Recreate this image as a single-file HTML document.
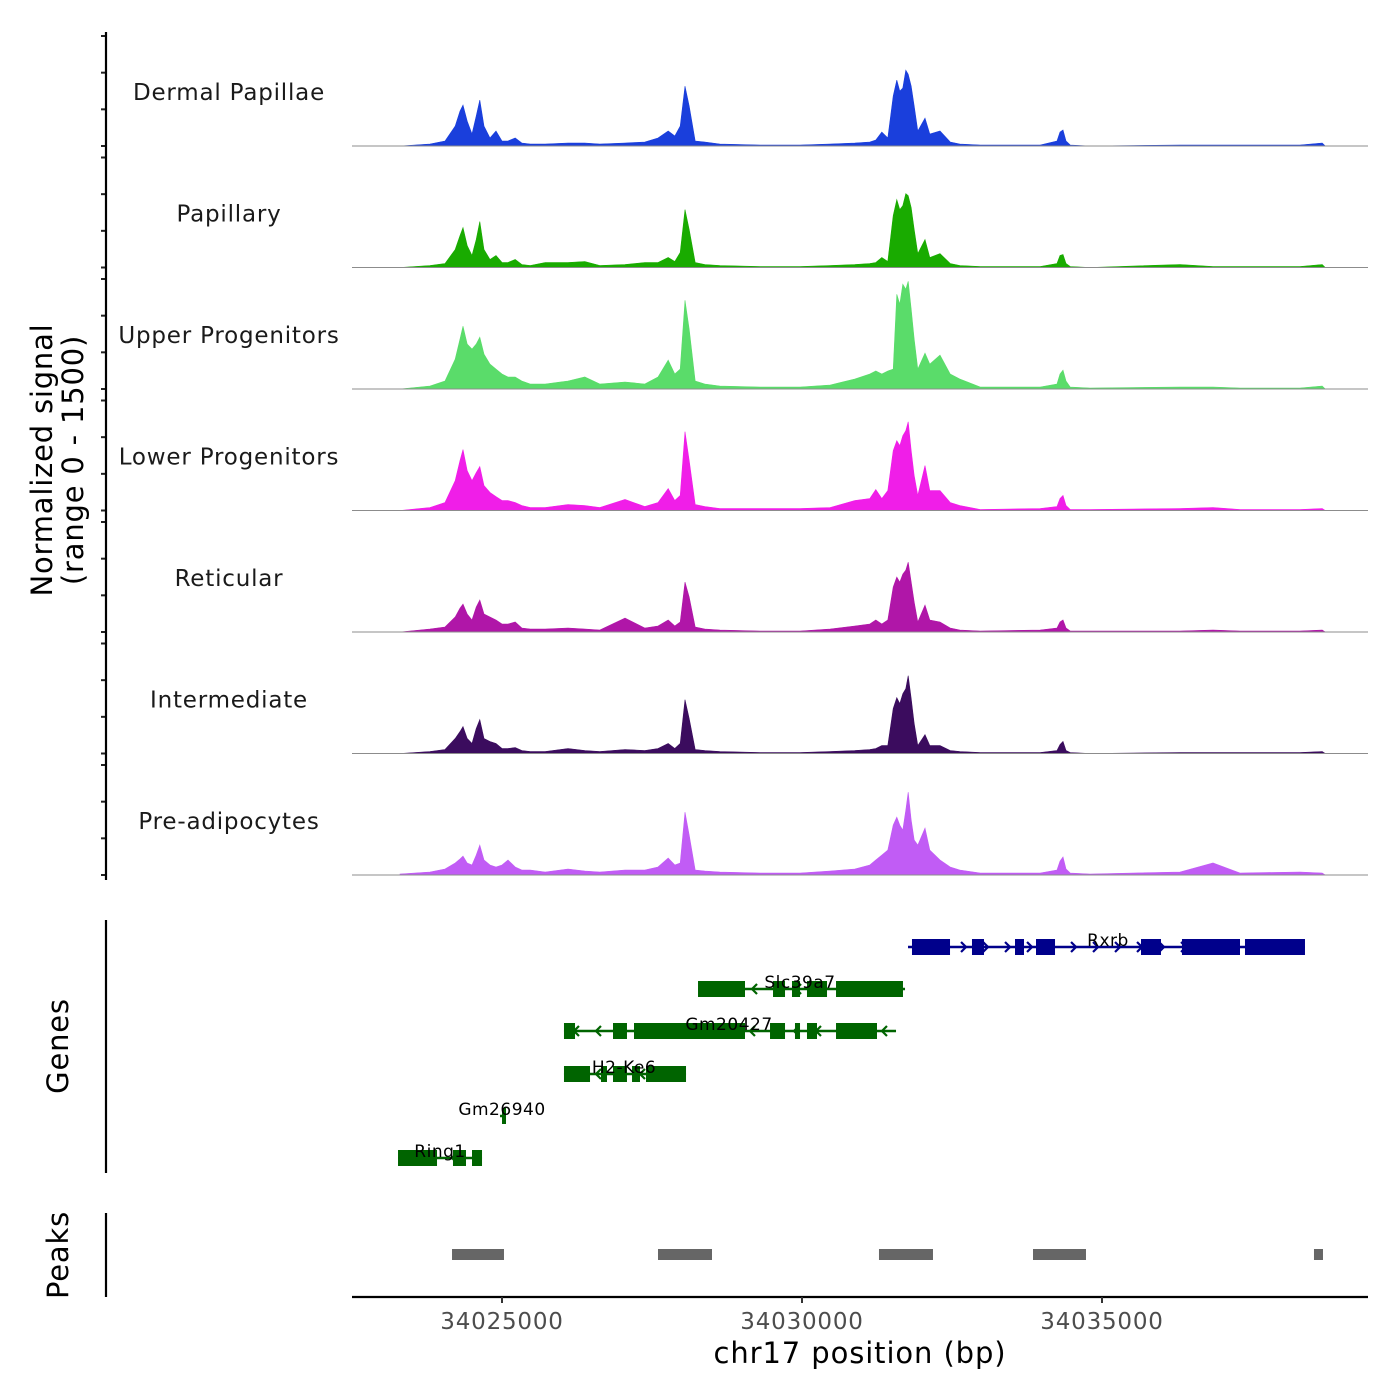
<!DOCTYPE html>
<html><head><meta charset="utf-8"><style>
html,body{margin:0;padding:0;background:#fff;}
svg{display:block;font-family:"DejaVu Sans","Liberation Sans",sans-serif;}
</style></head><body>
<svg id="chart" width="1400" height="1400" viewBox="0 0 1400 1400"></svg>
<script>
// ---- data ----
const positions=[34023300,34023800,34024050,34024220,34024300,34024350,34024420,34024500,34024570,34024630,34024700,34024800,34024900,34025000,34025100,34025220,34025330,34025470,34025720,34026100,34026380,34026630,34027050,34027380,34027600,34027770,34027880,34027970,34028050,34028120,34028220,34028380,34028630,34029300,34029970,34030470,34030880,34031130,34031230,34031330,34031430,34031520,34031580,34031630,34031680,34031730,34031770,34031820,34031870,34031930,34032050,34032130,34032300,34032470,34032630,34032970,34033970,34034250,34034300,34034350,34034400,34034470,34034800,34036300,34036850,34037300,34038300,34038670,34038720];
const trackNames=["Dermal Papillae","Papillary","Upper Progenitors","Lower Progenitors","Reticular","Intermediate","Pre-adipocytes"];
const trackColors=["#1a3fdc","#19ab00","#5adc6a","#f01ee8","#b016a8","#3b0c5e","#c15cf5"];
const dermalPapillae=[0,27,68,272,476,558,340,163,408,626,272,109,204,68,68,109,41,27,27,41,41,27,41,54,109,204,136,272,816,544,68,54,27,14,14,27,41,54,82,190,109,680,898,748,789,1034,979,816,544,204,381,163,204,54,27,14,14,68,190,218,68,14,0,14,14,14,14,41,0];
const papillary=[0,27,54,245,435,544,299,163,381,626,245,109,163,68,68,109,41,27,68,68,82,27,41,68,68,136,82,204,789,517,68,41,27,14,14,27,41,54,68,136,82,707,925,789,843,1006,979,816,517,190,381,136,190,54,27,14,14,54,163,177,54,14,0,41,14,14,14,41,0];
const upperProgenitors=[0,41,109,408,680,857,612,544,612,707,476,340,272,204,163,163,109,68,68,109,163,68,95,68,163,394,204,272,1210,816,109,68,41,27,27,54,136,204,245,204,245,272,1292,1156,1428,1360,1469,1088,680,272,490,340,462,204,136,27,27,68,204,258,109,27,14,27,27,14,14,41,0];
const lowerProgenitors=[0,41,109,408,680,830,544,408,517,598,340,245,190,136,136,109,68,41,41,82,68,41,150,54,109,299,136,204,1074,680,82,54,27,27,27,41,136,163,286,163,272,816,952,884,1020,1088,1210,816,476,204,612,272,272,109,68,14,27,54,163,204,68,14,14,27,41,14,14,27,0];
const reticular=[0,41,68,204,326,381,245,163,340,435,245,204,163,109,109,136,54,41,41,54,41,27,190,54,82,163,82,136,680,476,68,41,27,14,14,41,82,109,163,109,163,612,748,680,789,843,952,680,408,136,367,163,136,54,27,14,27,54,136,163,54,14,14,14,27,14,14,27,0];
const intermediate=[0,27,54,204,299,367,204,136,340,462,204,163,136,68,68,82,41,27,27,68,41,27,54,41,68,136,68,136,734,476,54,41,27,14,14,27,41,54,68,109,109,612,762,680,816,884,1061,748,408,109,258,109,109,41,27,14,14,41,122,163,41,14,0,14,14,14,14,27,0];
const preAdipocytes=[14,41,82,163,218,258,163,136,272,408,204,136,109,136,204,109,68,68,41,82,54,41,68,68,109,231,136,163,857,544,68,54,41,27,27,54,82,136,204,272,340,680,789,680,612,884,1129,748,476,408,639,340,204,109,68,27,27,68,190,245,82,27,14,41,163,27,41,27,0];
const trackValues=[dermalPapillae,papillary,upperProgenitors,lowerProgenitors,reticular,intermediate,preAdipocytes];
const xTicks=[34025000,34030000,34035000];
const yTickValues=[0,500,1000,1500];
const geneNames=["Rxrb","Slc39a7","Gm20427","H2-Ke6","Gm26940","Ring1"];
const geneStrands=["+","-","-","-","-","-"];
const geneSpans=[[34031767,34038383],[34028267,34031717],[34026033,34031567],[34026033,34028067],[34024967,34025067],[34023267,34024667]];
const geneExons=[
 [[34031833,34032467],[34032833,34033033],[34033550,34033700],[34033900,34034217],[34035650,34035983],[34036333,34037300],[34037383,34038383]],
 [[34028267,34029050],[34029517,34029717],[34029833,34029967],[34030083,34030417],[34030567,34031683]],
 [[34026033,34026217],[34026850,34027083],[34027200,34029050],[34029467,34029717],[34029883,34029967],[34030083,34030250],[34030567,34031250]],
 [[34026033,34026467],[34026650,34026750],[34026850,34027083],[34027167,34027300],[34027400,34028067]],
 [[34025000,34025050]],
 [[34023267,34023917],[34024183,34024400],[34024500,34024667]]
];
const peakRanges=[[34024167,34025033],[34027600,34028500],[34031283,34032183],[34033850,34034733],[34038533,34038683]];

// ---- scales ----
const NS="http://www.w3.org/2000/svg";
const svg=document.getElementById('chart');
const X0=34022500, PX=0.06, LEFT=352;
const xs=bp=>LEFT+(bp-X0)*PX;
const trackBase=i=>146+i*121.5;
const ys=(i,v)=>trackBase(i)-v*110/1500;
function el(tag,attrs,parent){const e=document.createElementNS(NS,tag);for(const k in attrs)e.setAttribute(k,attrs[k]);(parent||svg).appendChild(e);return e;}
function txt(s,attrs,parent){const t=el('text',attrs,parent);t.textContent=s;return t;}

// tracks
trackValues.forEach((vals,i)=>{
  const g=el('g',{});
  
  
  let d='M'+xs(positions[0])+','+trackBase(i);
  positions.forEach((p,j)=>{d+=' L'+xs(p).toFixed(1)+','+ys(i,vals[j]).toFixed(1);});
  d+=' L'+xs(positions[positions.length-1])+','+trackBase(i)+' Z';
  const a=el('path',{d:d,fill:trackColors[i],stroke:trackColors[i],'stroke-width':0.6},g);
  
  
  const bl=el('line',{x1:352,x2:1368,y1:trackBase(i),y2:trackBase(i),stroke:'#8c8c8c','stroke-width':1},g);
  
  
  const lb=txt(trackNames[i],{x:229,y:trackBase(i)-46,'text-anchor':'middle','font-size':23,fill:'#1a1a1a','letter-spacing':'0.8'},g);
  
  
  yTickValues.forEach(v=>{
    const t=el('line',{x1:101,x2:106,y1:ys(i,v),y2:ys(i,v),stroke:'#222','stroke-width':2},g);
    
    
  });
});
const ya=el('line',{x1:106,x2:106,y1:32,y2:880,stroke:'#000','stroke-width':2.2});


const yt=el('text',{transform:'translate(52,460) rotate(-90)','text-anchor':'middle','font-size':29,fill:'#000','letter-spacing':'0.8'});


const t1=el('tspan',{x:0,dy:0},yt);t1.textContent='Normalized signal';
const t2=el('tspan',{x:0,dy:31},yt);t2.textContent='(range 0 - 1500)';

// genes
const geneRowY=[947,989,1031,1074,1116,1158];
const gg=el('g',{});


geneNames.forEach((n,i)=>{
  const c=geneStrands[i]==='+'?'#00008b':'#006400';
  const y=geneRowY[i];
  const g=el('g',{},gg);
  
  
  const x1=xs(geneSpans[i][0]),x2=xs(geneSpans[i][1]);
  el('line',{x1:x1,x2:x2,y1:y,y2:y,stroke:c,'stroke-width':2.5},g);
  for(let ax=x1+12;ax<x2-6;ax+=22){
    const s=geneStrands[i]==='+'?1:-1;
    el('polyline',{points:(ax-3*s)+','+(y-5)+' '+(ax+2*s)+','+y+' '+(ax-3*s)+','+(y+5),fill:'none',stroke:c,'stroke-width':2.2},g);
  }
  geneExons[i].forEach(e=>{
    const w=Math.max(xs(e[1])-xs(e[0]),4);
    el('rect',{x:xs(e[0]),y:y-8,width:w,height:16,fill:c},g);
  });
  const lx={Rxrb:1108,Slc39a7:800,Gm20427:729,'H2-Ke6':624,Gm26940:502,Ring1:440}[n];
  txt(n,{x:lx,y:y-1,'text-anchor':'middle','font-size':17,fill:'#000','letter-spacing':'0.5'},g);
});
const ga=el('line',{x1:106,x2:106,y1:920,y2:1173,stroke:'#000','stroke-width':2.2});


const gt=txt('Genes',{transform:'translate(68,1046) rotate(-90)','text-anchor':'middle','font-size':29,'letter-spacing':'0.8'});



// peaks
peakRanges.forEach(p=>{
  const r=el('rect',{x:xs(p[0]),y:1249,width:Math.max(xs(p[1])-xs(p[0]),8),height:11,fill:'#666'});
  
  
});
const pa=el('line',{x1:106,x2:106,y1:1213,y2:1297,stroke:'#000','stroke-width':2.2});


const pt=txt('Peaks',{transform:'translate(68,1255) rotate(-90)','text-anchor':'middle','font-size':29,'letter-spacing':'0.8'});



// x axis
const xa=el('line',{x1:352,x2:1368,y1:1297,y2:1297,stroke:'#000','stroke-width':2.2});


xTicks.forEach(t=>{
  const l=el('line',{x1:xs(t),x2:xs(t),y1:1297,y2:1303,stroke:'#333','stroke-width':2});
  
  
  const tl=txt(String(t),{x:xs(t),y:1329,'text-anchor':'middle','font-size':23,fill:'#4d4d4d','letter-spacing':'0.8'});
  
  
});
const xt=txt('chr17 position (bp)',{x:860,y:1363,'text-anchor':'middle','font-size':29,fill:'#000','letter-spacing':'0.9'});


</script>
</body></html>
